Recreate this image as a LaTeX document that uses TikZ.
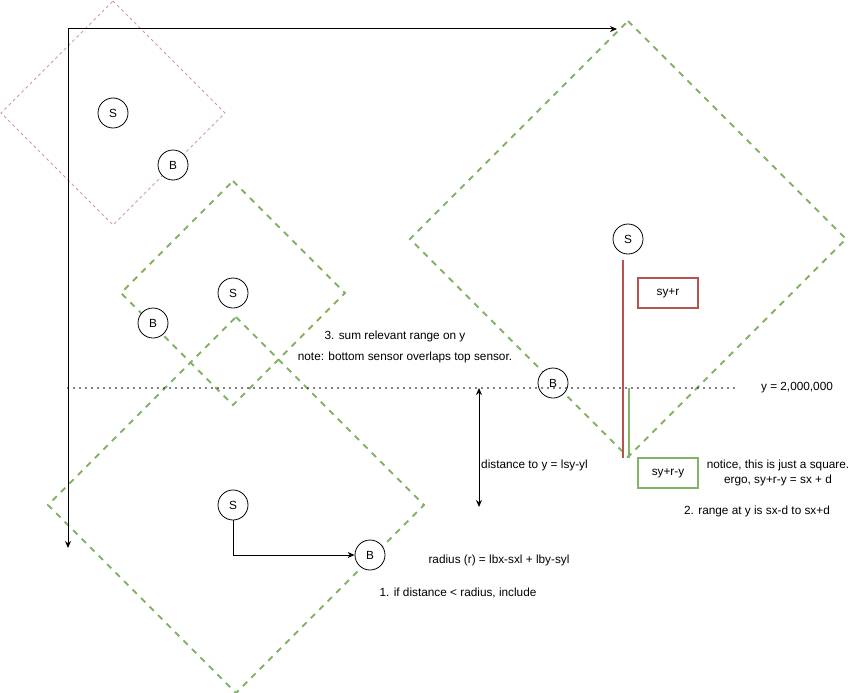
\documentclass[tikz,border=0pt]{standalone}
\usepackage{fontspec}
\setmainfont{Liberation Sans}
\usetikzlibrary{arrows.meta}

\definecolor{rangegreen}{HTML}{82B366}
\definecolor{rangered}{HTML}{B85450}
\definecolor{oldred}{HTML}{D09A9A}

\newcommand{\rangeDiamond}[3]{
\begin{scope}[shift={(#1)}]
\draw [#3] (0,-#2) -- (#2,0) -- (0,#2) -- (-#2,0) -- cycle;
\end{scope}
}

\begin{document}
\begin{tikzpicture}[x=1pt, y=-1pt,
  font=\fontsize{11.8}{14}\selectfont,
  sensor/.style={circle, draw, fill=white, line width=0.8pt, minimum size=30pt, inner sep=0pt},
  greenrange/.style={draw=rangegreen, line width=2pt, dash pattern=on 6pt off 6pt},
  redrange/.style={draw=oldred, line width=1pt, dash pattern=on 3pt off 3pt},
  label/.style={anchor=center, inner sep=0pt},
  valbox/.style={rectangle, line width=2pt, minimum width=60pt, minimum height=30pt},
  arr/.style={-{Stealth[length=7pt,width=6pt]}, line width=1pt}]

\useasboundingbox (0,0) rectangle (859,693);

% ranges
\rangeDiamond{113,113}{112}{redrange};
\rangeDiamond{233,293}{112}{greenrange};
\rangeDiamond{236,505}{188}{greenrange};
\rangeDiamond{628,239}{218}{greenrange};

% axes
\path (68,29) coordinate (O);
\path (617,29) coordinate (Xend);
\path (68,548) coordinate (Yend);
\draw [arr] (O) -- (Xend);
\draw [arr] (O) -- (Yend);

% sensors and beacons
\node [sensor] (S1) at (113,113) {S};
\node [sensor] (B1) at (173,165) {B};
\node [sensor] (S2) at (233,293) {S};
\node [sensor] (B2) at (153,323) {B};
\node [sensor] (S3) at (233,505) {S};
\node [sensor] (B3) at (370,555) {B};
\node [sensor] (S4) at (628,239) {S};
\node [sensor] (B4) at (553,383) {B};

\draw [arr] (S3.south) |- (B3.west);

% the line y = 2,000,000
\path (68,388) coordinate (L1);
\path (735,388) coordinate (L2);
\draw [line width=1.6pt, dash pattern=on 0pt off 6pt, line cap=round] (L1) -- (L2);
\node [label] (ylabel) at (797,388) {y = 2,000,000};

% distance to y
\path (479,388) coordinate (D1);
\path (479,507) coordinate (D2);
\draw [{Stealth[length=7pt,width=6pt]}-{Stealth[length=7pt,width=6pt]}, line width=1pt] (D1) -- (D2);
\node [label, anchor=west] (dist) at (481,465) {distance to y = lsy-yl};

% red and green spans
\path (623,260) coordinate (R1);
\path (623,458) coordinate (R2);
\path (629,388) coordinate (G1);
\path (629,458) coordinate (G2);
\draw [draw=rangered, line width=2pt] (R1) -- (R2);
\draw [draw=rangegreen, line width=2pt] (G1) -- (G2);

\node [valbox, draw=rangered] (top) at (668,293) {sy+r};
\node [valbox, draw=rangegreen] (bottom) at (668,473) {sy+r-y};

% notes
\node [label, align=center] (notice) at (778,473) {notice, this is just a square.\\[1pt]ergo, sy+r-y = sx + d};
\node [label] (step2) at (757,511) {2. range at y is sx-d to sx+d};
\node [label] (step3) at (395,336) {3. sum relevant range on y};
\node [label] (note) at (405,357) {note: bottom sensor overlaps top sensor.};
\node [label] (radius) at (499,560) {radius (r) = lbx-sxl + lby-syl};
\node [label] (step1) at (458,593) {1. if distance < radius, include};

\end{tikzpicture}
\end{document}
